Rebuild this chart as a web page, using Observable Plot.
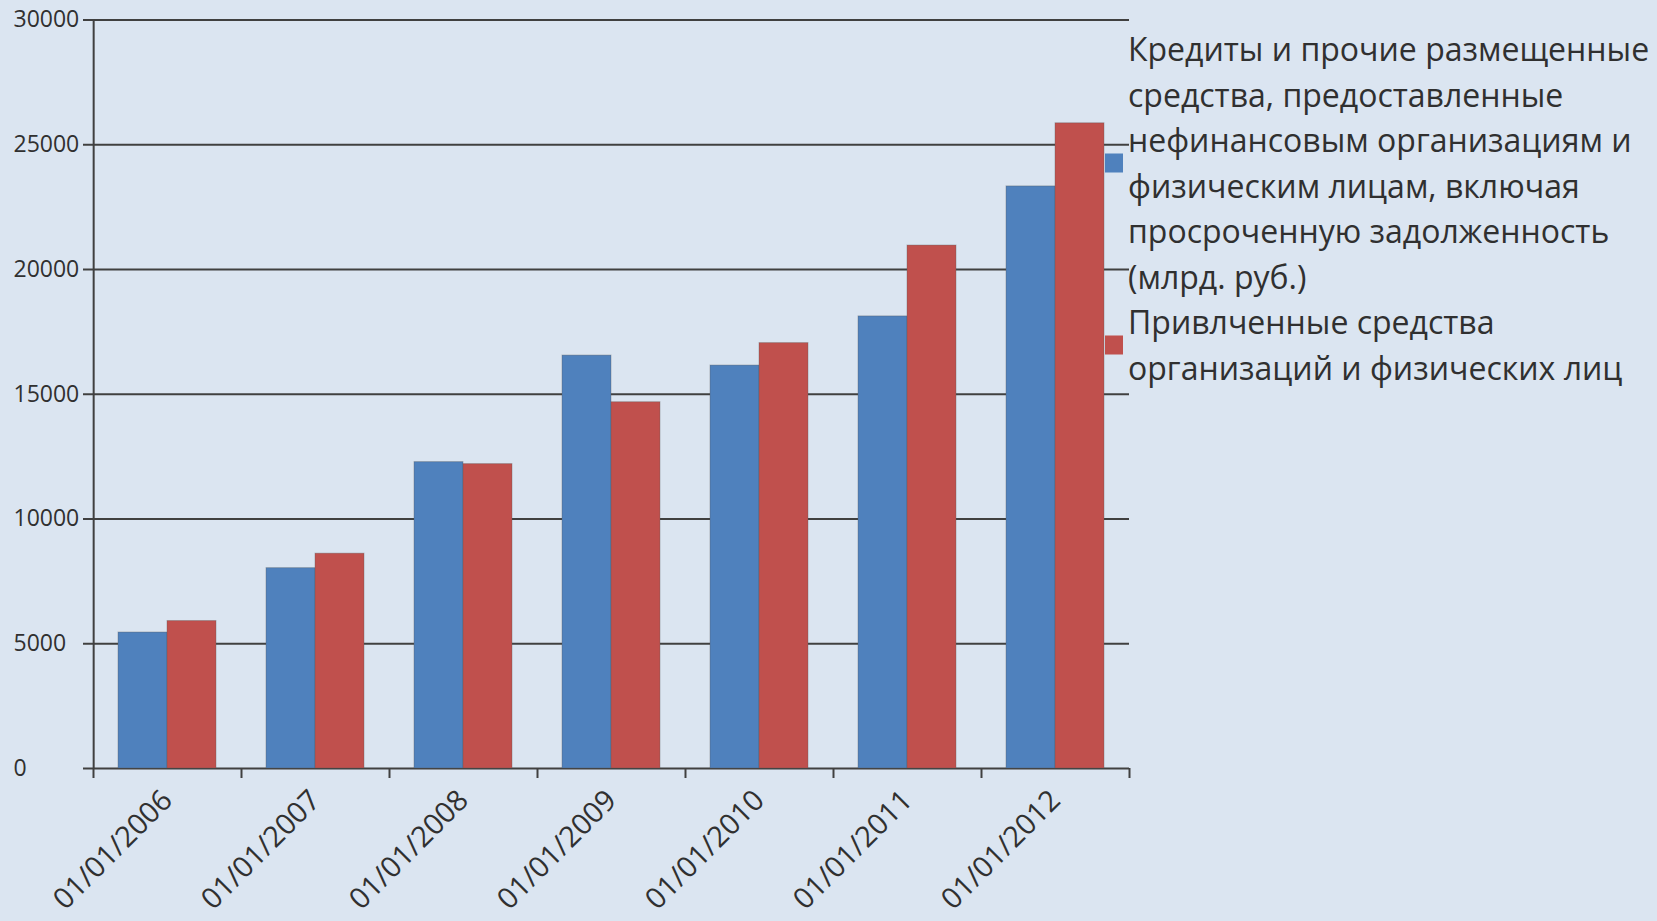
<!DOCTYPE html>
<html>
<head>
<meta charset="utf-8">
<script src="https://cdn.jsdelivr.net/npm/d3@7"></script>
<script src="https://cdn.jsdelivr.net/npm/@observablehq/plot@0.6"></script>
<style>
  html, body { margin: 0; padding: 0; background: #DBE5F1; }
  #wrap { position: relative; width: 1657px; height: 921px; overflow: hidden; font-family: "Open Sans", sans-serif; }
  #legend { position: absolute; left: 1105px; top: 26px; color: #303030; font-size: 32px; line-height: 45.5px; }
  .entry { position: relative; padding-left: 23px; white-space: nowrap; }
  .swatch { position: absolute; left: 0; top: 50%; width: 18px; height: 19px; transform: translateY(-50%); }
</style>
</head>
<body>
<div id="wrap"><div id="chart"></div><div id="legend"></div></div>
<script>
const dates = ["01/01/2006", "01/01/2007", "01/01/2008", "01/01/2009", "01/01/2010", "01/01/2011", "01/01/2012"];
const seriesNames = [
  "Кредиты и прочие размещенные средства, предоставленные нефинансовым организациям и физическим лицам, включая просроченную задолженность (млрд. руб.)",
  "Привлченные средства организаций и физических лиц"
];
const legendLines = [
  ["Кредиты и прочие размещенные", "средства, предоставленные", "нефинансовым организациям и", "физическим лицам, включая", "просроченную задолженность", "(млрд. руб.)"],
  ["Привлченные средства", "организаций и физических лиц"]
];
const loans = [5450, 8030, 12280, 16550, 16150, 18120, 23330];
const funds = [5910, 8610, 12200, 14680, 17050, 20960, 25860];
const yTicks = [0, 5000, 10000, 15000, 20000, 25000, 30000];
const colors = ["#4F81BD", "#C0504D"];

const W = 1657, H = 921;
const mL = 93, mR = 528, mT = 19.5, mB = 153;
const fw = (W - mL - mR) / dates.length;
const axisColor = "#404040";

const data = dates.flatMap((d, i) => [
  {date: d, series: seriesNames[0], value: loans[i]},
  {date: d, series: seriesNames[1], value: funds[i]}
]);

const chart = Plot.plot({
  width: W, height: H,
  marginLeft: mL, marginRight: mR, marginTop: mT, marginBottom: mB,
  style: {background: "transparent", fontFamily: "Open Sans, sans-serif", color: "#303030"},
  fx: {domain: dates, padding: 0, label: null, axis: null},
  x: {domain: seriesNames, paddingInner: 0, paddingOuter: 0.5, axis: null},
  y: {domain: [0, 30000], axis: null},
  color: {domain: seriesNames, range: colors},
  marks: [
    Plot.gridY(yTicks, {stroke: axisColor, strokeOpacity: 1, strokeWidth: 2}),
    Plot.barY(data, {fx: "date", x: "series", y: "value", fill: "series", inset: 0, stroke: "#555", strokeOpacity: 0.35, strokeWidth: 1}),
    Plot.ruleX([{date: dates[0], s: seriesNames[0]}], {fx: "date", x: "s", dx: -fw / 3, y1: 0, y2: 30000, stroke: axisColor, strokeWidth: 2}),
    Plot.axisFx({anchor: "bottom", tickSize: 10, tickFormat: () => "", dx: -fw / 2, stroke: axisColor, strokeWidth: 2, label: null}),
    Plot.axisFx({anchor: "bottom", ticks: [dates[dates.length - 1]], tickSize: 10, tickFormat: () => "", dx: fw / 2, stroke: axisColor, strokeWidth: 2, label: null}),
    Plot.axisFx({anchor: "bottom", tickSize: 0, tickRotate: -45, tickPadding: 27, fontSize: 29, label: null}),
    Plot.axisY({ticks: yTicks, tickSize: 10, tickFormat: () => "", stroke: axisColor, strokeWidth: 2, label: null}),
    Plot.axisY({ticks: yTicks, tickSize: 0, tickPadding: 13, textAnchor: "start", dx: -67, fontSize: 23,
      tickFormat: d => String(d), label: null})
  ]
});
document.getElementById("chart").appendChild(chart);

const legend = document.getElementById("legend");
seriesNames.forEach((name, i) => {
  const e = document.createElement("div");
  e.className = "entry";
  e.title = name;
  const sw = document.createElement("span");
  sw.className = "swatch";
  sw.style.background = colors[i];
  e.appendChild(sw);
  legendLines[i].forEach((line, j) => {
    if (j) e.appendChild(document.createElement("br"));
    e.appendChild(document.createTextNode(line));
  });
  legend.appendChild(e);
});
</script>
</body>
</html>
